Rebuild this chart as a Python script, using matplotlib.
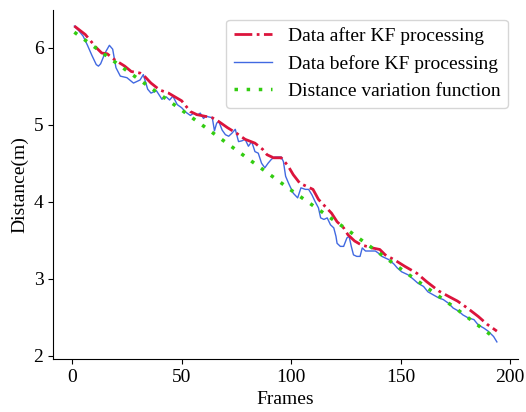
import matplotlib
matplotlib.use("Agg")
import matplotlib.pyplot as plt

plt.rcParams['font.family'] = ['Liberation Serif', 'DejaVu Serif']
plt.rcParams['mathtext.fontset'] = 'stix'

# Data before KF processing (raw measurements)
raw_frames = [1, 3, 5, 7, 9, 11, 12, 13, 15, 17, 18.5, 20, 22, 25, 28, 31, 32.5, 34.5, 36, 38.5,
              41, 43, 44.5, 46, 48, 50, 52, 54, 55.5, 57, 58.5, 60, 61, 62.5, 64, 65, 66, 67,
              68.5, 70, 71.5, 73, 74.5, 76, 77.5, 79, 80.5, 82, 83.5, 85, 86.5, 88, 89.5, 91,
              92.5, 95.5, 96.5, 97.5, 99, 101, 103, 104.5, 106.5, 108, 109.5, 111, 112.5, 113.5,
              115, 116.5, 118, 119.5, 120.5, 121, 122.5, 124, 125.5, 126.5, 127.5, 128.5, 130,
              131.5, 132.5, 134, 136, 138.5, 140, 141.5, 143, 144.5, 147, 148.5, 150.5, 153.5,
              156, 158, 160.5, 162.5, 165, 167.5, 169.5, 172, 174, 176.5, 178.5, 181, 183.5,
              185.5, 188, 190, 192.5, 194]
raw_values = [6.28, 6.22, 6.15, 6.03, 5.90, 5.78, 5.76, 5.79, 5.93, 6.03, 5.98, 5.74, 5.63, 5.61,
              5.54, 5.58, 5.65, 5.46, 5.41, 5.44, 5.33, 5.36, 5.32, 5.37, 5.26, 5.22, 5.16, 5.12,
              5.15, 5.12, 5.15, 5.08, 5.11, 5.10, 5.09, 4.92, 5.02, 5.04, 4.93, 4.87, 4.85, 4.89,
              4.94, 4.78, 4.79, 4.81, 4.72, 4.78, 4.65, 4.63, 4.50, 4.44, 4.50, 4.55, 4.58, 4.58,
              4.52, 4.33, 4.23, 4.11, 4.05, 4.18, 4.16, 4.16, 4.09, 4.00, 3.92, 3.79, 3.77, 3.79,
              3.70, 3.66, 3.55, 3.46, 3.42, 3.42, 3.53, 3.55, 3.42, 3.31, 3.29, 3.29, 3.40, 3.36,
              3.36, 3.36, 3.33, 3.29, 3.27, 3.25, 3.19, 3.14, 3.09, 3.05, 2.99, 2.94, 2.90, 2.83,
              2.79, 2.75, 2.73, 2.68, 2.62, 2.58, 2.53, 2.49, 2.47, 2.40, 2.36, 2.32, 2.25, 2.18]

# Data after KF processing
kf_frames = [1, 6, 11, 13.5, 16, 19.5, 24, 27, 31, 33, 36, 40, 44, 50, 54, 57, 60.5, 64, 67, 71,
             75, 79, 83.5, 87, 89, 92, 95.5, 98.5, 101, 104, 107, 110, 112.5, 115.5, 118.5, 121,
             124, 126, 129, 132, 137, 140.5, 143, 147.5, 152, 157.5, 162, 167.5, 172, 176, 180.5,
             185.5, 189.5, 194]
kf_values = [6.28, 6.17, 6.00, 5.93, 5.92, 5.84, 5.76, 5.69, 5.67, 5.63, 5.54, 5.45, 5.41, 5.31,
             5.17, 5.13, 5.11, 5.09, 5.04, 4.96, 4.89, 4.81, 4.76, 4.68, 4.61, 4.57, 4.57, 4.47,
             4.35, 4.24, 4.20, 4.16, 4.03, 3.94, 3.85, 3.74, 3.66, 3.57, 3.49, 3.44, 3.40, 3.38,
             3.31, 3.24, 3.16, 3.07, 2.96, 2.84, 2.77, 2.71, 2.62, 2.51, 2.41, 2.32]

# Distance variation function
fn_frames = [1, 25, 50, 75, 100, 125, 150, 175, 194]
fn_values = [6.20, 5.70, 5.19, 4.67, 4.15, 3.65, 3.13, 2.62, 2.21]

fig = plt.figure(figsize=(5.26, 4.12), dpi=100)
ax = fig.add_axes([0.101, 0.129, 0.884, 0.847])

ax.plot(kf_frames, kf_values, color='#DC143C', linestyle='-.', linewidth=2.0,
        label='Data after KF processing', zorder=3)
ax.plot(raw_frames, raw_values, color='#4169E1', linestyle='-', linewidth=1.0,
        label='Data before KF processing', zorder=2)
ax.plot(fn_frames, fn_values, color='#33CC11', linestyle=(0, (1, 2.5)), linewidth=2.5,
        label='Distance variation function', zorder=4)

ax.set_xlim(-8.7, 203.7)
ax.set_ylim(1.96, 6.49)
ax.set_xticks([0, 50, 100, 150, 200])
ax.set_yticks([2, 3, 4, 5, 6])
ax.tick_params(labelsize=14)
ax.spines['top'].set_visible(False)
ax.spines['right'].set_visible(False)
ax.set_xlabel('Frames', fontsize=14)
ax.set_ylabel('Distance(m)', fontsize=14)
ax.legend(loc='upper right', fontsize=14)

fig.savefig('out.png', dpi=100)
